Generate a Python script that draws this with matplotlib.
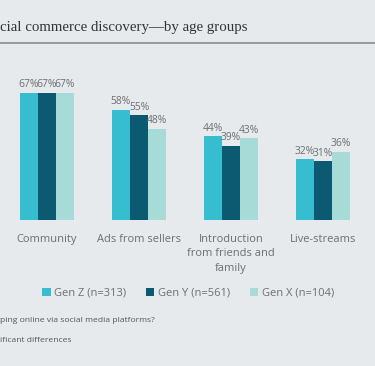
import numpy as np
import matplotlib.pyplot as plt

# --- Data ---
categories = ['Community', 'Ads from sellers', 'Introduction\nfrom friends and\nfamily', 'Live-streams']
series_names = ['Gen Z (n=313)', 'Gen Y (n=561)', 'Gen X (n=104)']
gen_z = [67, 58, 44, 32]
gen_y = [67, 55, 39, 31]
gen_x = [67, 48, 43, 36]

colors = ['#36bdd0', '#0c5a71', '#a7dbd8']
bg = '#e6eaed'
label_grey = '#6e6e6e'

W, H = 375, 366
fig = plt.figure(figsize=(W / 100, H / 100), dpi=100, facecolor=bg)

# axes placed in pixel terms: baseline at y=220 px from top
ax = fig.add_axes([1 / W, (H - 220) / H, 368 / W, 152 / H])
ax.set_facecolor(bg)

x = np.arange(len(categories))
width = 0.196
for i, (vals, name, c) in enumerate(zip([gen_z, gen_y, gen_x], series_names, colors)):
    pos = x + (i - 1) * width
    ax.bar(pos, vals, width=width, color=c, label=name)
    for xp, v in zip(pos, vals):
        ax.text(xp, v + 1.3, f'{v}%', ha='center', va='bottom',
                fontsize=7.4, color=label_grey, family='Open Sans')

ax.set_xlim(-0.5, len(categories) - 0.5)
ax.set_ylim(0, 80)
ax.set_xticks(x)
ax.set_xticklabels(categories, fontsize=8, color=label_grey, family='Open Sans',
                   linespacing=1.45, va='top')
ax.tick_params(axis='x', length=0, pad=10)
ax.set_yticks([])
for s in ax.spines.values():
    s.set_visible(False)

# Legend
leg = fig.legend(loc='center', bbox_to_anchor=(188 / W, (H - 293) / H), ncol=3,
                 frameon=False, handlelength=0.75, handleheight=0.75,
                 handletextpad=0.3, columnspacing=1.8,
                 prop={'family': 'Open Sans', 'size': 8})
for t in leg.get_texts():
    t.set_color(label_grey)

# Title (cropped at the left edge) and rule
fig.text(0, (H - 28) / H, 'cial commerce discovery\u2014by age groups', ha='left', va='center',
         fontsize=10.7, color='#333333', family='Liberation Serif')
fig.add_artist(plt.Line2D([0, 1], [(H - 42.5) / H] * 2, color='#8a8a8a', lw=1.2))

# Footnotes (cropped)
fig.text(0, (H - 320) / H, 'ping online via social media platforms?', ha='left', va='center',
         fontsize=6.1, color='#555555', family='Open Sans')
fig.text(0, (H - 341) / H, 'ificant differences', ha='left', va='center',
         fontsize=6.1, color='#555555', family='Open Sans')

fig.savefig('out.png', dpi=100, facecolor=bg)
